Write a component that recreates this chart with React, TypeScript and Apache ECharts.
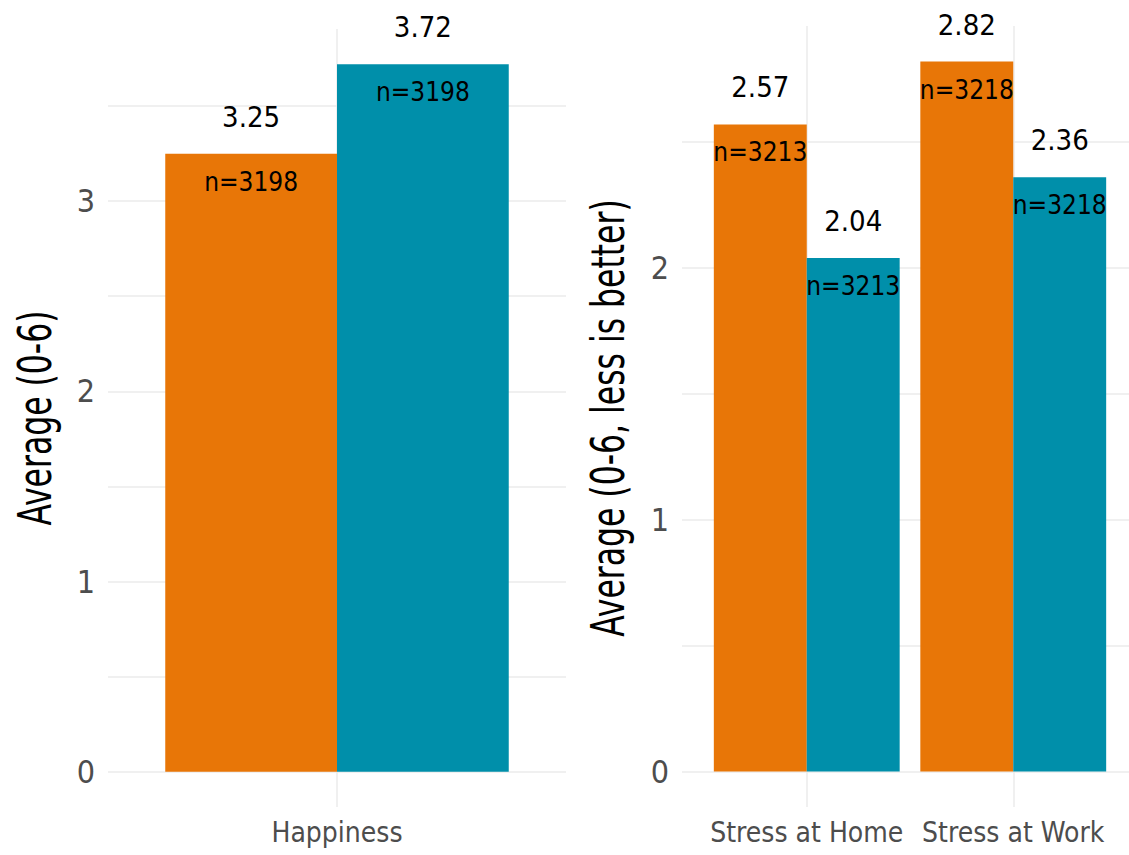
import React, { useEffect, useRef } from "react";
import * as echarts from "echarts";

const leftCategories = ["Happiness"];
const leftOrange = [3.25];
const leftTeal = [3.72];
const leftOrangeN = [3198];
const leftTealN = [3198];

const rightCategories = ["Stress at Home", "Stress at Work"];
const rightOrange = [2.57, 2.82];
const rightTeal = [2.04, 2.36];
const rightOrangeN = [3213, 3218];
const rightTealN = [3213, 3218];

const leftTitle = "Average (0-6)";
const rightTitle = "Average (0-6, less is better)";

const ORANGE = "#E87607";
const TEAL = "#008FAA";
const GRID = "#EBEBEB";
const FONT = "'DejaVu Sans Condensed', 'Liberation Sans Narrow', sans-serif";

function makeLabel(ns: number[]) {
  return {
    show: true,
    position: ["50%", -4.5],
    align: "center",
    verticalAlign: "middle",
    formatter: (p: any) => `{v|${Number(p.value).toFixed(2)}}\n{n|n=${ns[p.dataIndex]}}`,
    rich: {
      v: { fontFamily: FONT, fontSize: 29, lineHeight: 65, color: "#000" },
      n: { fontFamily: FONT, fontSize: 26, lineHeight: 65, color: "#000" },
    },
  };
}

function vLineSeries(cats: string[], xi: number, yi: number) {
  return {
    type: "line",
    xAxisIndex: xi,
    yAxisIndex: yi,
    data: [],
    z: 0,
    silent: true,
    markLine: {
      silent: true,
      symbol: "none",
      z: 0,
      label: { show: false },
      lineStyle: { color: GRID, width: 1.5, type: "solid" },
      data: cats.map((c) => ({ xAxis: c })),
    },
  };
}

export default function App() {
  const ref = useRef<HTMLDivElement>(null);
  useEffect(() => {
    if (!ref.current) return;
    const chart = echarts.init(ref.current, undefined, { renderer: "svg" });
    const leftMax = Math.max(...leftOrange, ...leftTeal);
    const rightMax = Math.max(...rightOrange, ...rightTeal);
    const frameY = (max: number) => ({
      type: "value",
      min: 0,
      max,
      interval: 0.5,
      axisLine: { show: false },
      axisTick: { show: false },
      splitLine: { show: true, lineStyle: { color: GRID, width: 1.5 } },
      axisLabel: {
        fontFamily: FONT,
        fontSize: 32,
        color: "#4D4D4D",
        margin: 13,
        formatter: (v: number) => (Number.isInteger(v) ? String(v) : ""),
      },
    });
    const barY = (max: number) => ({
      type: "value",
      min: -0.05 * max,
      max: 1.05 * max,
      show: false,
    });
    const hiddenX = { type: "value", min: 0, max: 1, show: false };
    const catX = (data: string[], grid: number) => ({
      type: "category",
      gridIndex: grid,
      data,
      axisLine: { show: false },
      axisTick: { show: false },
      splitLine: { show: false },
      axisLabel: { fontFamily: FONT, fontSize: 28, color: "#4D4D4D", margin: 11, interval: 0 },
    });
    const title = (text: string, x: number, y: number) => ({
      type: "text",
      x,
      y,
      rotation: Math.PI / 2,
      scaleY: 1.3,
      style: {
        text,
        fontFamily: FONT,
        fontSize: 35,
        fill: "#000",
        align: "center",
        verticalAlign: "middle",
        textAlign: "center",
        textVerticalAlign: "middle",
      },
    });
    chart.setOption({
      animation: false,
      backgroundColor: "#fff",
      grid: [
        { left: 108, right: 1129 - 566, top: 772 - 3.5 * 190.3, bottom: 83 },
        { left: 108, right: 1129 - 566, top: 29, bottom: 48 },
        { left: 682, right: -8, top: 772 - 2.5 * 252, bottom: 83 },
        { left: 703.5, right: 12.5, top: 26, bottom: 48 },
      ],
      graphic: [title(leftTitle, 35, 418), title(rightTitle, 608, 418)],
      xAxis: [
        { ...hiddenX, gridIndex: 0 },
        catX(leftCategories, 1),
        { ...hiddenX, gridIndex: 2 },
        catX(rightCategories, 3),
      ],
      yAxis: [
        { ...frameY(3.5), gridIndex: 0 },
        { ...barY(leftMax), gridIndex: 1 },
        { ...frameY(2.5), gridIndex: 2 },
        { ...barY(rightMax), gridIndex: 3 },
      ],
      series: [
        vLineSeries(leftCategories, 1, 1),
        vLineSeries(rightCategories, 3, 3),
        {
          type: "bar",
          xAxisIndex: 1,
          yAxisIndex: 1,
          data: leftOrange,
          itemStyle: { color: ORANGE },
          barGap: "0%",
          barCategoryGap: "25%",
          z: 2,
          label: makeLabel(leftOrangeN),
        },
        {
          type: "bar",
          xAxisIndex: 1,
          yAxisIndex: 1,
          data: leftTeal,
          itemStyle: { color: TEAL },
          barGap: "0%",
          barCategoryGap: "25%",
          z: 2,
          label: makeLabel(leftTealN),
        },
        {
          type: "bar",
          xAxisIndex: 3,
          yAxisIndex: 3,
          data: rightOrange,
          itemStyle: { color: ORANGE },
          barGap: "0%",
          barCategoryGap: "10%",
          z: 2,
          label: makeLabel(rightOrangeN),
        },
        {
          type: "bar",
          xAxisIndex: 3,
          yAxisIndex: 3,
          data: rightTeal,
          itemStyle: { color: TEAL },
          barGap: "0%",
          barCategoryGap: "10%",
          z: 2,
          label: makeLabel(rightTealN),
        },
      ],
    });
    return () => chart.dispose();
  }, []);
  return (
    <div
      ref={ref}
      style={{ position: "absolute", left: 0, top: 0, width: 1129, height: 855 }}
    />
  );
}
